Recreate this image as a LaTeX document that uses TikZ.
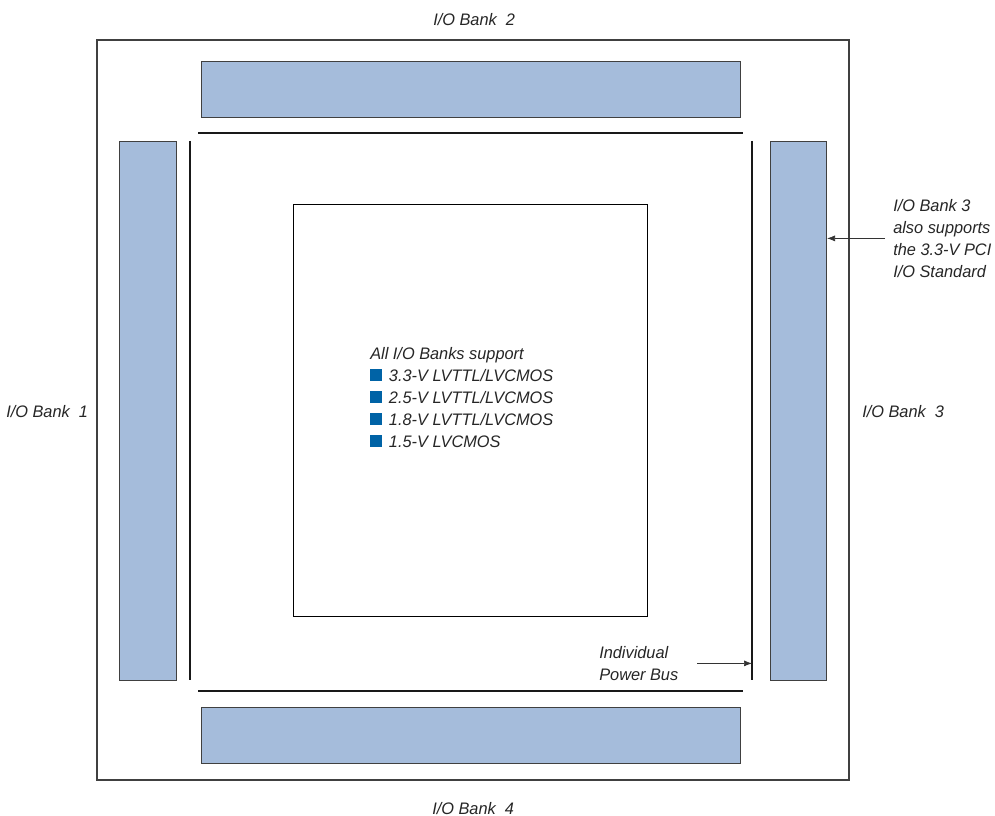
\documentclass[tikz,border=0pt]{standalone}
\usepackage{fontspec}
\setmainfont{Liberation Sans}[FakeStretch=0.98]
\usepackage{xcolor}
\usetikzlibrary{arrows.meta}
\usetikzlibrary{math}

\definecolor{bankblue}{RGB}{165,188,219}
\definecolor{sqblue}{RGB}{0,99,166}

\newcommand{\sq}{\textcolor{sqblue}{\rule{9pt}{9pt}}\hspace{5pt}}

\begin{document}
\begin{tikzpicture}[x=0.75pt,y=-0.75pt,
  bank/.style={fill=bankblue, draw=black!75, line width=0.8pt},
  bus/.style={draw=black!90, line width=0.8pt},
  lbl/.style={font=\itshape\fontsize{12.5}{16.5}\selectfont, text=black!85, inner sep=0pt, align=left},
  arr/.style={-{Latex[length=6pt,width=4.5pt]}, line width=0.5pt, black!80}]
\tikzmath{
\xl=97; \xr=849; \yt=40; \yb=780;
}
\useasboundingbox (0,0) rectangle (995,816);

% die outline
\draw[black!75, line width=0.9pt] (\xl,\yt) rectangle (\xr,\yb);

% I/O banks
\node[bank, minimum width=539*0.75pt, minimum height=56*0.75pt, anchor=north west] (bank2) at (201,61) {};
\node[bank, minimum width=539*0.75pt, minimum height=56*0.75pt, anchor=north west] (bank4) at (201,707) {};
\node[bank, minimum width=57*0.75pt, minimum height=539*0.75pt, anchor=north west] (bank1) at (119,141) {};
\node[bank, minimum width=56*0.75pt, minimum height=539*0.75pt, anchor=north west] (bank3) at (770,141) {};

% power buses
\coordinate (busT) at (198,133);
\coordinate (busB) at (198,691);
\coordinate (busL) at (190,141);
\coordinate (busR) at (752,141);
\draw[bus] (busT) -- +(545,0);
\draw[bus] (busB) -- +(545,0);
\draw[bus] (busL) -- +(0,539);
\draw[bus] (busR) -- +(0,539);

% core
\draw[black, line width=0.7pt] (293,204) rectangle (647,616);

\node[lbl, anchor=north west] (spt) at (370,347) {All I/O Banks support\\
\sq 3.3-V LVTTL/LVCMOS\\
\sq 2.5-V LVTTL/LVCMOS\\
\sq 1.8-V LVTTL/LVCMOS\\
\sq 1.5-V LVCMOS};

% bank labels
\node[lbl, anchor=base west] (lbl2) at (433,26) {I/O Bank\ \ 2};
\node[lbl, anchor=base west] (lbl4) at (432,814) {I/O Bank\ \ 4};
\node[lbl, anchor=base west] (lbl1) at (6,417) {I/O Bank\ \ 1};
\node[lbl, anchor=base west] (lbl3) at (862,417) {I/O Bank\ \ 3};

% annotations
\node[lbl, anchor=north west] (pci) at (893,199) {I/O Bank 3\\also supports\\the 3.3-V PCI\\I/O Standard};
\draw[arr] ([xshift=-6]pci.west) -- (pci.west -| bank3.east);

\node[lbl, anchor=north west] (pwr) at (599,646) {Individual\\Power Bus};
\draw[arr] ([xshift=14]pwr.east) -- (pwr.east -| busR);

\end{tikzpicture}
\end{document}
